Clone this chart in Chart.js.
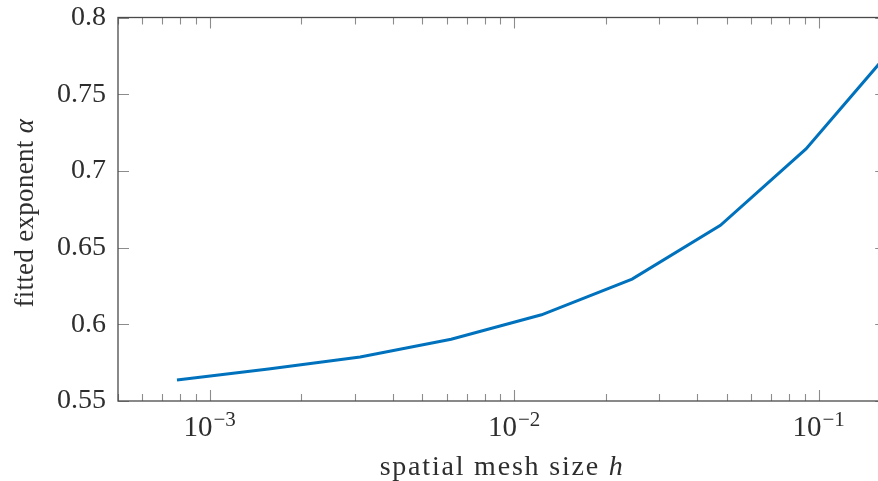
<!DOCTYPE html>
<html>
<head>
<meta charset="utf-8">
<script src="https://cdn.jsdelivr.net/npm/chart.js@4.4.1/dist/chart.umd.min.js"></script>
<style>
  html, body { margin: 0; padding: 0; background: #fff; }
  #wrap { width: 878px; height: 481px; }
</style>
</head>
<body>
<div id="wrap"><canvas id="myChart"></canvas></div>
<script>
// mesh sizes h (1/N) and fitted exponent alpha
var meshSize = [0.000781, 0.00156, 0.00312, 0.00621, 0.0123, 0.0244, 0.0476, 0.0909, 0.1667];
var alphaFit = [0.5637, 0.5709, 0.5787, 0.5903, 0.6062, 0.6295, 0.6645, 0.7143, 0.7752];

var yTicks = [0.55, 0.6, 0.65, 0.7, 0.75, 0.8];
var xDecades = [-3, -2, -1];   // labelled ticks 10^k
var xMin = 0.0005;
var xMax = 0.1667;    // axis end (just past the picture's right edge)
var xVisible = 0.1567; // what is visible inside the 878px window

var serif = "'Liberation Serif', 'DejaVu Serif', serif";
var textCol = '#2e2e2e';

// draws box, inside ticks, x labels and both axis titles
var framePlugin = {
    id: 'frame',
    afterDraw: function(chart) {
        var ctx = chart.ctx;
        var xs = chart.scales.x, ys = chart.scales.y;
        var l = xs.getPixelForValue(xMin), r = xs.getPixelForValue(xMax);
        var t = ys.getPixelForValue(0.8), b = ys.getPixelForValue(0.55);
        ctx.save();
        ctx.strokeStyle = '#8c8c8c';
        ctx.lineWidth = 1.1;
        ctx.beginPath();
        // x minor + major ticks top and bottom
        for (var k = -4; k <= 0; k++) {
            for (var m = 1; m <= 9; m++) {
                var v = m * Math.pow(10, k);
                if (v < xMin || v > xMax) continue;
                var px = Math.round(xs.getPixelForValue(v)) + 0.5;
                var len = (m == 1) ? 11 : 7;
                ctx.moveTo(px, b); ctx.lineTo(px, b - len);
                ctx.moveTo(px, t); ctx.lineTo(px, t + len);
            }
        }
        // y ticks left and right
        yTicks.forEach(function(v) {
            var py = Math.round(ys.getPixelForValue(v)) + 0.5;
            ctx.moveTo(l, py); ctx.lineTo(l + 11, py);
            ctx.moveTo(r, py); ctx.lineTo(r - 11, py);
        });
        ctx.stroke();

        ctx.strokeStyle = '#4a4a4a';
        ctx.lineWidth = 1.3;
        ctx.strokeRect(l, t, r - l, b - t);

        // x tick labels 10^k
        ctx.fillStyle = textCol;
        ctx.textBaseline = 'alphabetic';
        ctx.textAlign = 'left';
        xDecades.forEach(function(k) {
            var px = xs.getPixelForValue(Math.pow(10, k));
            ctx.font = '29px ' + serif;
            var w1 = ctx.measureText('10').width;
            ctx.font = '21px ' + serif;
            var sup = '\u2212' + Math.abs(k);
            var w2 = ctx.measureText(sup).width;
            var x0 = px - (w1 + w2 + 1) / 2;
            ctx.font = '29px ' + serif;
            ctx.fillText('10', x0, 436);
            ctx.font = '21px ' + serif;
            ctx.fillText(sup, x0 + w1 + 1, 426);
        });

        // x title with italic h
        ctx.letterSpacing = '1.8px';
        ctx.font = '28px ' + serif;
        var s1 = 'spatial mesh size ';
        var w = ctx.measureText(s1).width;
        ctx.font = 'italic 28px ' + serif;
        var wh = ctx.measureText('h').width;
        var cx = (l + r) / 2;
        var sx = cx - (w + wh) / 2;
        ctx.font = '28px ' + serif;
        ctx.fillText(s1, sx, 475);
        ctx.font = 'italic 28px ' + serif;
        ctx.fillText('h', sx + w, 475);

        // y title rotated, italic alpha
        ctx.letterSpacing = '0.3px';
        ctx.translate(33, (t + b) / 2 + 4);
        ctx.rotate(-Math.PI / 2);
        ctx.font = '27px ' + serif;
        var s2 = 'fitted exponent ';
        var w3 = ctx.measureText(s2).width;
        ctx.font = 'italic 27px ' + serif;
        var wa = ctx.measureText('\u03b1').width;
        var sy = -(w3 + wa) / 2;
        ctx.font = '27px ' + serif;
        ctx.fillText(s2, sy, 0);
        ctx.font = 'italic 27px ' + serif;
        ctx.fillText('\u03b1', sy + w3, 0);
        ctx.restore();
    }
};

var points = [];
for (var i = 0; i < meshSize.length; i++) {
    points.push({x: meshSize[i], y: alphaFit[i]});
}

var chart = new Chart(document.getElementById('myChart').getContext('2d'), {
    type: 'line',
    data: {
        datasets: [{
            data: points,
            borderColor: '#0072bd',
            borderWidth: 3,
            pointRadius: 0,
            tension: 0,
            fill: false
        }]
    },
    options: {
        responsive: true,
        maintainAspectRatio: false,
        animation: false,
        events: [],
        layout: { padding: { top: 17.5, right: 0, left: 0, bottom: 0 } },
        plugins: {
            legend: { display: false },
            tooltip: { enabled: false }
        },
        scales: {
            x: {
                type: 'logarithmic',
                min: xMin,
                max: xVisible,
                grid: { display: false },
                border: { display: false },
                ticks: { display: false },
                afterFit: function(scale) { scale.height = 80; }
            },
            y: {
                min: 0.55,
                max: 0.8,
                grid: { display: false },
                border: { display: false },
                ticks: {
                    stepSize: 0.05,
                    padding: 4,
                    color: textCol,
                    font: { family: serif, size: 28 },
                    callback: function(v) { return String(+v.toFixed(2)); }
                },
                afterFit: function(scale) {
                    scale.width = 118;
                    scale.paddingTop = 0;
                    scale.paddingBottom = 0;
                }
            }
        }
    },
    plugins: [framePlugin]
});
</script>
</body>
</html>
